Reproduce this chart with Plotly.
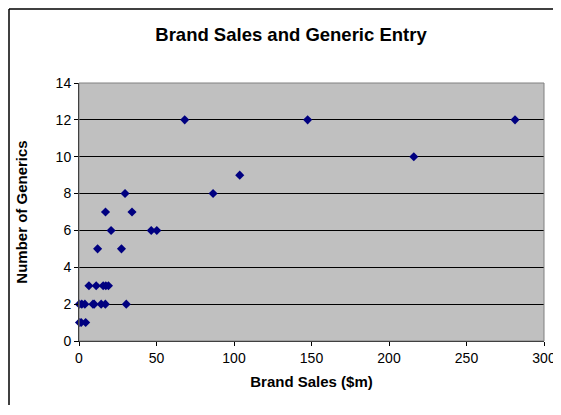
import plotly.graph_objects as go

brand_sales = [0.3, 1.4, 4.3,
               0.2, 1.8, 3.8, 9.0, 9.8, 14.3, 17.0, 30.5,
               6.4, 11.1, 15.6, 17.3, 19.0,
               12.0, 27.4,
               20.7, 46.6, 50.2,
               17.1, 34.2,
               29.7, 86.5,
               103.7,
               216.0,
               68.2, 147.5, 281.3]
num_generics = [1, 1, 1,
                2, 2, 2, 2, 2, 2, 2, 2,
                3, 3, 3, 3, 3,
                5, 5,
                6, 6, 6,
                7, 7,
                8, 8,
                9,
                10,
                12, 12, 12]

x_ticks = [0, 50, 100, 150, 200, 250, 300]
y_ticks = [0, 2, 4, 6, 8, 10, 12, 14]

fig = go.Figure()
fig.add_trace(go.Scatter(
    x=brand_sales, y=num_generics, mode="markers",
    marker=dict(symbol="diamond", color="#000080", size=7, line=dict(width=0)),
    cliponaxis=False, showlegend=False,
))

font = "Liberation Sans, Arial, sans-serif"
# page has an 8px body margin: figure origin at (8, 8)
W, H = 553, 397
fig.update_layout(
    width=W, height=H,
    margin=dict(l=71, r=17, t=75, b=64, autoexpand=False),
    paper_bgcolor="white", plot_bgcolor="#C0C0C0",
    title=dict(text="<b>Brand Sales and Generic Entry</b>", x=(291 - 8) / W, xanchor="center",
               y=1 - (35 - 8) / H, yanchor="middle", font=dict(family=font, size=18.5, color="black")),
    font=dict(family=font, size=14, color="black"),
    xaxis=dict(range=[0, 300], tickvals=x_ticks, showgrid=False, zeroline=False,
               showline=True, linecolor="black", linewidth=1,
               ticks="outside", ticklen=4, tickcolor="black",
               title=dict(text="<b>Brand Sales ($m)</b>", font=dict(size=15), standoff=11)),
    yaxis=dict(range=[0, 14], tickvals=y_ticks, showgrid=True, gridcolor="black", gridwidth=1,
               zeroline=False, showline=True, linecolor="black", linewidth=1,
               ticks="outside", ticklen=4, tickcolor="black",
               title=dict(text="<b>Number of Generics</b>", font=dict(size=15), standoff=24)),
    shapes=[
        dict(type="line", xref="paper", yref="paper", x0=(9 - 79) / 465, x1=(9 - 79) / 465,
             y0=-0.4, y1=(341 - 9) / 258, line=dict(color="black", width=1.5), layer="below"),
        dict(type="line", xref="paper", yref="paper", x0=(9 - 79) / 465, x1=1.2,
             y0=(341 - 9) / 258, y1=(341 - 9) / 258, line=dict(color="black", width=1.5), layer="below"),
        dict(type="rect", xref="paper", yref="paper", x0=0, x1=1, y0=0, y1=1,
             line=dict(color="#808080", width=1), layer="above"),
    ],
)

fig.write_html("out.html")
